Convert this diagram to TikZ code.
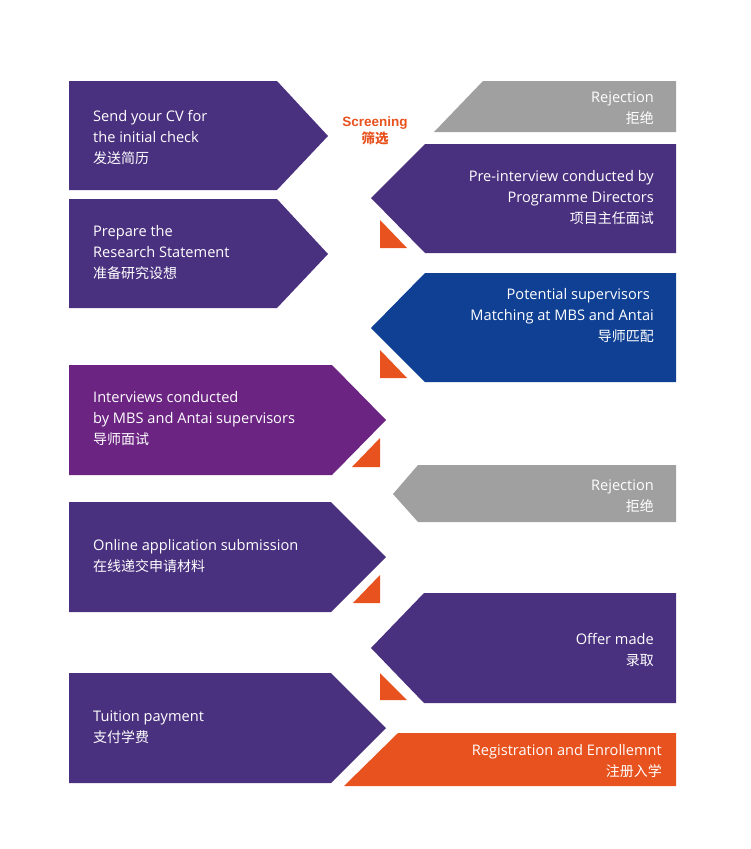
\documentclass[tikz,border=0pt]{standalone}
\usepackage{fontspec}
\setmainfont{Open Sans}
\newfontfamily\cjkfont{Noto Sans CJK SC}
\newfontfamily\scrfont{Liberation Sans}
\newcommand\zhtext[1]{{\cjkfont\fontsize{14}{21}\selectfont #1}}
\definecolor{purpleA}{RGB}{74,49,128}
\definecolor{magentaA}{RGB}{107,36,130}
\definecolor{blueA}{RGB}{16,64,148}
\definecolor{greyA}{RGB}{160,160,160}
\definecolor{orangeA}{RGB}{232,82,30}
\tikzset{
  lefttext/.style={anchor=base west, align=left, inner sep=0pt, text=white,
    font=\fontsize{14.6}{21}\selectfont},
  righttext/.style={anchor=base east, align=right, inner sep=0pt, text=white,
    font=\fontsize{14.6}{21}\selectfont},
  pointer/.style={fill=orangeA}
}
\begin{document}
\begin{tikzpicture}[x=1pt,y=-1pt]
\useasboundingbox (0,0) rectangle (750,849);
\fill[white] (0,0) rectangle (750,849);
% left column
\fill[purpleA] (69,81) -- (277,81) -- (328,136) -- (277,190) -- (69,190) -- cycle;
\fill[purpleA] (69,199) -- (277,199) -- (328,254) -- (277,308) -- (69,308) -- cycle;
\fill[magentaA] (69,365) -- (332,365) -- (386,420) -- (332,475) -- (69,475) -- cycle;
\fill[purpleA] (69,502) -- (331,502) -- (386,557) -- (331,612) -- (69,612) -- cycle;
\fill[purpleA] (69,673) -- (331,673) -- (386,728) -- (331,783) -- (69,783) -- cycle;
% right column
\fill[greyA] (483,81) -- (676,81) -- (676,132) -- (434,132) -- cycle;
\fill[purpleA] (676,144) -- (425,144) -- (371,198) -- (425,253) -- (676,253) -- cycle;
\fill[blueA] (676,273) -- (425,273) -- (371,328) -- (425,382) -- (676,382) -- cycle;
\fill[greyA] (676,465) -- (418,465) -- (393,494) -- (418,522) -- (676,522) -- cycle;
\fill[purpleA] (676,593) -- (424,593) -- (371,648) -- (424,703) -- (676,703) -- cycle;
\fill[orangeA] (398,733) -- (676,733) -- (676,786) -- (344,786) -- cycle;
% orange pointers
\fill[pointer] (380,220) -- (380,248) -- (407,248) -- cycle;
\fill[pointer] (380,350) -- (380,378) -- (407,378) -- cycle;
\fill[pointer] (380,438) -- (380,467) -- (352,467) -- cycle;
\fill[pointer] (380,575) -- (380,603) -- (353,603) -- cycle;
\fill[pointer] (380,673) -- (380,700) -- (407,700) -- cycle;
% texts (anchor = baseline of the last line)
\node[lefttext] (cv) at (93,163) {Send your CV for\\the initial check\\\zhtext{发送简历}};
\node[lefttext] (rs) at (93,278) {Prepare the\\Research Statement\\\zhtext{准备研究设想}};
\node[lefttext] (iv) at (93,444) {Interviews conducted\\by MBS and Antai supervisors\\\zhtext{导师面试}};
\node[lefttext] (on) at (93,571) {Online application submission\\\zhtext{在线递交申请材料}};
\node[lefttext] (tu) at (93,742) {Tuition payment\\\zhtext{支付学费}};
\node[righttext] (rj1) at (654,123) {Rejection\\\zhtext{拒绝}};
\node[righttext] (pi) at (654,223) {Pre-interview conducted by\\Programme Directors\\\zhtext{项目主任面试}};
\node[righttext] (ps) at (654,341) {Potential supervisors\kern4pt\\Matching at MBS and Antai\\\zhtext{导师匹配}};
\node[righttext] (rj2) at (654,511) {Rejection\\\zhtext{拒绝}};
\node[righttext] (of) at (654,665) {Offer made\\\zhtext{录取}};
\node[righttext] (re) at (662,776) {Registration and Enrollemnt\\\zhtext{注册入学}};
\node[anchor=base, align=center, inner sep=0pt, text=orangeA,
  font=\scrfont\bfseries\fontsize{13.5}{17}\selectfont] (sc) at (375,143)
  {Screening\\{\cjkfont\fontsize{13.5}{17}\selectfont 筛选}};
\end{tikzpicture}
\end{document}
